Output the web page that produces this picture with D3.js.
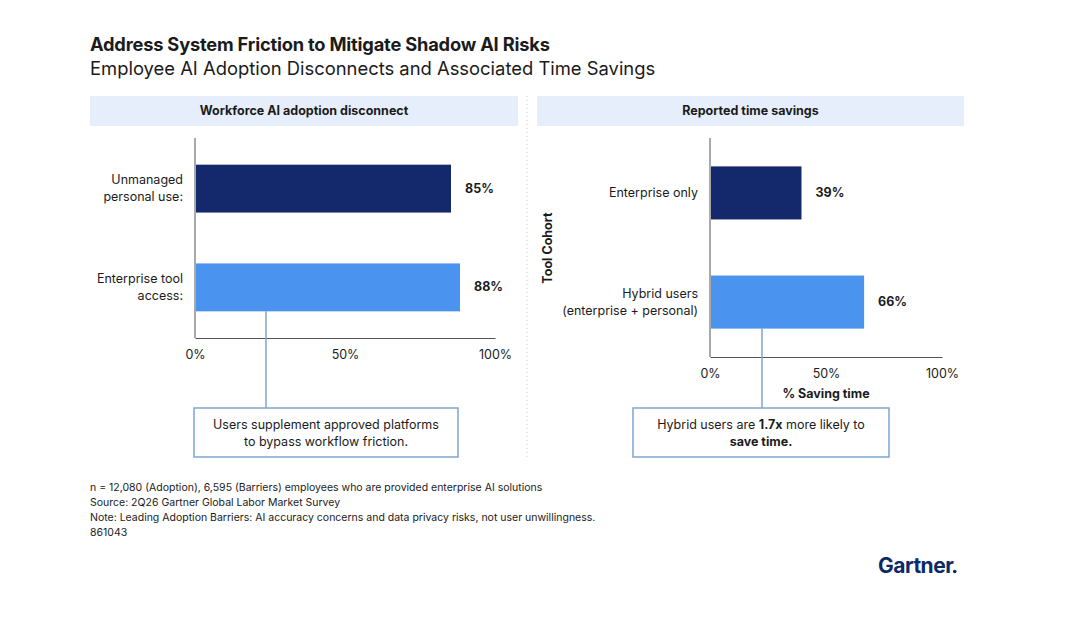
<!DOCTYPE html>
<html lang="en">
<head>
<meta charset="UTF-8" />
<script src="https://d3js.org/d3.v7.min.js"></script>
<style>
  body { margin: 0; background: #fff; font-family: Inter, "Noto Sans", sans-serif; }
</style>
</head>
<body>
<svg id="chart" width="1080" height="622"></svg>
<script>
const adoptionCats = ["Unmanaged|personal use:", "Enterprise tool|access:"]
const adoptionVals = [85, 88]
const savingCats = ["Enterprise only", "Hybrid users|(enterprise + personal)"]
const savingVals = [39, 66]
const ticks = [0, 50, 100]
const colors = ["#14296b", "#4a94ef"]
const footnotes = [
  "n = 12,080 (Adoption), 6,595 (Barriers) employees who are provided enterprise AI solutions",
  "Source: 2Q26 Gartner Global Labor Market Survey",
  "Note: Leading Adoption Barriers: AI accuracy concerns and data privacy risks, not user unwillingness.",
  "861043"
]

const svg = d3.select("#chart")
const ink = "#1b1b1b"

svg.append("text").attr("x", 90).attr("y", 51).attr("font-size", 18.3).attr("font-weight", 700)
  .attr("fill", ink).attr("letter-spacing", -0.2).text("Address System Friction to Mitigate Shadow AI Risks")
svg.append("text").attr("x", 90).attr("y", 75).attr("font-size", 18.4).attr("fill", ink)
  .text("Employee AI Adoption Disconnects and Associated Time Savings")

// divider
svg.append("line").attr("x1", 527).attr("x2", 527).attr("y1", 96).attr("y2", 460)
  .attr("stroke", "#ccc").attr("stroke-dasharray", "1 3")

function panel(o) {
  svg.append("rect").attr("x", o.hx).attr("y", 96).attr("width", o.hw).attr("height", 30).attr("fill", "#e5eefa")
  svg.append("text").attr("x", o.hx + o.hw / 2).attr("y", 115).attr("text-anchor", "middle")
    .attr("font-size", 12.5).attr("font-weight", 700).attr("fill", ink).text(o.title)

  const x = d3.scaleLinear().domain([0, 100]).range([o.x0, o.x1])
  const y = d3.scaleBand().domain(o.cats).range([o.yt, o.yb]).paddingInner(o.pi).paddingOuter(o.po)

  const g = svg.append("g")
  g.append("g").attr("transform", `translate(0,${o.yb})`)
    .call(d3.axisBottom(x).tickValues(ticks).tickFormat(d => d + "%").tickSize(0).tickPadding(12))
    .call(a => a.select(".domain").attr("stroke", "#555"))
    .call(a => a.selectAll("text").attr("font-size", 12.5).attr("fill", ink).attr("font-family", "Inter, sans-serif"))
  g.append("line").attr("x1", o.x0).attr("x2", o.x0).attr("y1", 138).attr("y2", o.yb).attr("stroke", "#555")

  g.selectAll(".bar").data(o.vals).join("rect").attr("class", "bar")
    .attr("x", o.x0 + 1).attr("y", (d, i) => y(o.cats[i]))
    .attr("width", d => x(d) - o.x0).attr("height", y.bandwidth())
    .attr("fill", (d, i) => colors[i])
  g.selectAll(".val").data(o.vals).join("text").attr("class", "val")
    .attr("x", d => x(d) + 15).attr("y", (d, i) => y(o.cats[i]) + y.bandwidth() / 2 + 4)
    .attr("font-size", 12.5).attr("font-weight", 700).attr("fill", ink).text(d => d + "%")
  o.cats.forEach(c => {
    const lines = c.split("|")
    const cy = y(c) + y.bandwidth() / 2
    const t = g.append("text").attr("text-anchor", "end").attr("font-size", 12.5).attr("fill", ink)
    lines.forEach((l, i) => t.append("tspan").attr("x", o.x0 - 12)
      .attr("y", cy + 4 + (i - (lines.length - 1) / 2) * 17).text(l))
  })

  // callout
  const last = o.cats[o.cats.length - 1]
  g.append("line").attr("x1", o.cx).attr("x2", o.cx).attr("y1", y(last) + y.bandwidth()).attr("y2", 408)
    .attr("stroke", "#7da6d0").attr("stroke-width", 1.5)
  g.append("rect").attr("x", o.bx).attr("y", 408).attr("width", o.bw).attr("height", 49)
    .attr("fill", "#fff").attr("stroke", "#7da6d0").attr("stroke-width", 1.5)
  o.note(g.append("text").attr("text-anchor", "middle").attr("font-size", 12.5).attr("fill", ink), o.bx + o.bw / 2)
}

panel({
  title: "Workforce AI adoption disconnect", hx: 90, hw: 428,
  cats: adoptionCats, vals: adoptionVals, x0: 195, x1: 495, yt: 138, yb: 338, pi: 0.515, po: 0.27,
  cx: 266, bx: 194, bw: 264,
  note: (t, cx) => {
    t.append("tspan").attr("x", cx).attr("y", 429).text("Users supplement approved platforms")
    t.append("tspan").attr("x", cx).attr("y", 446).text("to bypass workflow friction.")
  }
})

panel({
  title: "Reported time savings", hx: 537, hw: 427,
  cats: savingCats, vals: savingVals, x0: 710, x1: 942, yt: 138, yb: 357, pi: 0.514, po: 0.26,
  cx: 762, bx: 633, bw: 256,
  note: (t, cx) => {
    const a = t.append("tspan").attr("x", cx).attr("y", 429)
    a.append("tspan").text("Hybrid users are ")
    a.append("tspan").attr("font-weight", 700).text("1.7x")
    a.append("tspan").text(" more likely to")
    t.append("tspan").attr("x", cx).attr("y", 446).attr("font-weight", 700).text("save time.")
  }
})
svg.append("text").attr("x", 826).attr("y", 398).attr("text-anchor", "middle").attr("font-size", 12.5)
  .attr("font-weight", 700).attr("fill", ink).text("% Saving time")
svg.append("text").attr("transform", "translate(552,248) rotate(-90)").attr("text-anchor", "middle")
  .attr("font-size", 12.5).attr("font-weight", 700).attr("fill", ink).text("Tool Cohort")

svg.selectAll(".fn").data(footnotes).join("text").attr("class", "fn")
  .attr("x", 90).attr("y", (d, i) => 491 + i * 15).attr("font-size", 10.5).attr("fill", ink).text(d => d)

const logo = svg.append("text").attr("x", 878).attr("y", 573).attr("font-size", 21).attr("font-weight", 700)
  .attr("fill", "#0d2a66").attr("letter-spacing", -0.5).text("Gartner")
const lw = logo.node().getComputedTextLength()
svg.append("circle").attr("cx", 878 + lw + 1.5).attr("cy", 571.5).attr("r", 1.8).attr("fill", "#0d2a66")
</script>
</body>
</html>
